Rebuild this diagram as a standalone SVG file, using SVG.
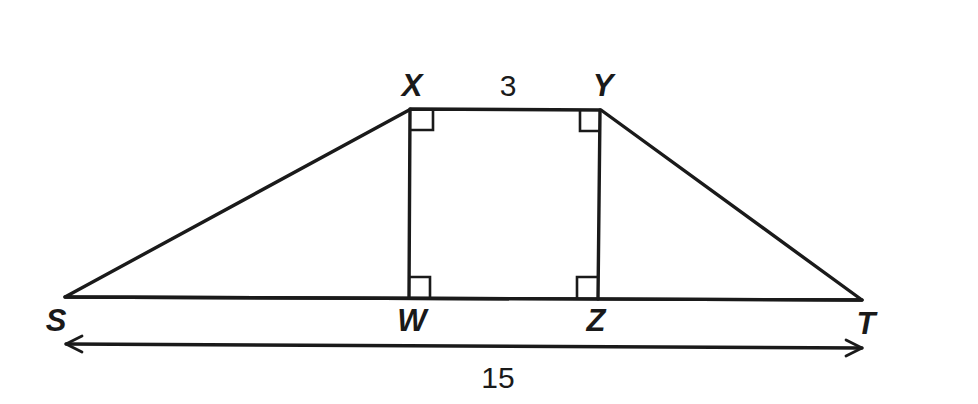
<svg xmlns="http://www.w3.org/2000/svg" width="978" height="404" viewBox="0 0 978 404">
<style>
.ln{stroke:#1a1a1a;stroke-width:3.4;fill:none;stroke-linecap:round;stroke-linejoin:round}
.sq{stroke:#1a1a1a;stroke-width:2.6;fill:none}
.lb{font-family:"Liberation Sans",Arial,sans-serif;font-size:31px;font-style:italic;font-weight:bold;fill:#1a1a1a;text-anchor:middle}
.nm{font-family:"Liberation Sans",Arial,sans-serif;font-size:30px;fill:#1a1a1a;text-anchor:middle}
</style>
<defs>
<marker id="ah" viewBox="0 0 20 20" refX="18" refY="10" markerWidth="20" markerHeight="20" markerUnits="userSpaceOnUse" orient="auto-start-reverse">
<path d="M2,2 L18,10 L2,18" fill="none" stroke="#1a1a1a" stroke-width="2.8" stroke-linecap="round" stroke-linejoin="round"/>
</marker>
</defs>
<rect width="978" height="404" fill="#ffffff"/>
<g id="connectors">
<polygon class="ln" points="65,297 411,109 601,110 862,300"/>
<line class="ln" x1="65" y1="297" x2="862" y2="300"/>
<line class="ln" x1="410" y1="109" x2="409" y2="298"/>
<line class="ln" x1="600" y1="110" x2="598" y2="299"/>
<line class="ln" x1="66" y1="344" x2="862" y2="348" marker-start="url(#ah)" marker-end="url(#ah)"/>
</g>
<g id="right-angles">
<polyline class="sq" points="411,130 433,130 433,110"/>
<polyline class="sq" points="580,110 580,131 599,131"/>
<polyline class="sq" points="409,277 430,277 430,298"/>
<polyline class="sq" points="577,298 577,277 598,277"/>
</g>
<g id="node-X"><text class="lb" x="412" y="96">X</text></g>
<g id="node-Y"><text class="lb" x="603" y="96">Y</text></g>
<g id="node-S"><text class="lb" x="56" y="331">S</text></g>
<g id="node-W"><text class="lb" x="412" y="331">W</text></g>
<g id="node-Z"><text class="lb" x="596" y="331">Z</text></g>
<g id="node-T"><text class="lb" x="866" y="334">T</text></g>
<g id="label-3"><text class="nm" x="508" y="96">3</text></g>
<g id="label-15"><text class="nm" x="498" y="388">15</text></g>
</svg>
